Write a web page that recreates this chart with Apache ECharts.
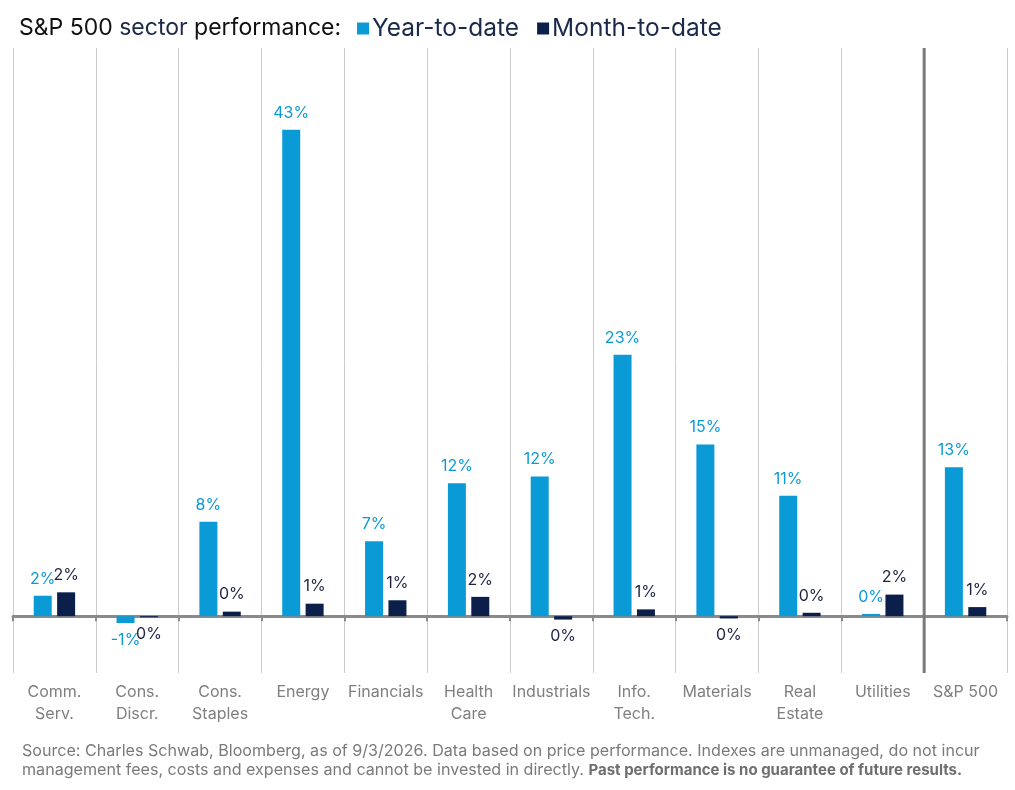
<!DOCTYPE html>
<html>
<head>
<meta charset="utf-8">
<title>S&amp;P 500 sector performance</title>
<script src="https://cdn.jsdelivr.net/npm/echarts@6/dist/echarts.min.js"></script>
<style>
  html, body { margin: 0; padding: 0; background: #fff; }
  #main { width: 1015px; height: 790px; }
</style>
</head>
<body>
<div id="main"></div>
<script>
// chart data
var sectors = ['Comm.\nServ.', 'Cons.\nDiscr.', 'Cons.\nStaples', 'Energy', 'Financials', 'Health\nCare',
  'Industrials', 'Info.\nTech.', 'Materials', 'Real\nEstate', 'Utilities', 'S&P 500'];
var ytd = [1.8, -0.6, 8.3, 42.8, 6.6, 11.7, 12.3, 23.0, 15.1, 10.6, 0.2, 13.1];
var mtd = [2.1, -0.1, 0.4, 1.1, 1.4, 1.7, -0.3, 0.6, -0.2, 0.3, 1.9, 0.8];
var seriesNames = ['Year-to-date', 'Month-to-date'];
var yMin = -5, yMax = 50;

var FONT = 'Inter';
var BLUE = '#0a9bd6';
var NAVY = '#0c1f4a';

var chart = echarts.init(document.getElementById('main'));

// labels above positive bars, below negative ones
function toItems(arr) {
  return arr.map(function (v) {
    return { value: v, label: { position: v < 0 ? 'bottom' : 'top' } };
  });
}

function pct(p) {
  return Math.round(p.value) + '%';
}

var option = {
  animation: false,
  textStyle: { fontFamily: FONT },
  title: [{
    left: 14,
    top: 12,
    text: '{a|S&P 500 }{b|sector}{a| performance:}',
    textStyle: {
      rich: {
        a: { fontFamily: FONT, fontSize: 23, fontWeight: 'normal', color: '#111' },
        b: { fontFamily: FONT, fontSize: 23, fontWeight: 'normal', color: '#1b2a4a' }
      }
    }
  }, {
    left: 17,
    top: 737,
    text: '{n|Source: Charles Schwab, Bloomberg, as of 9/3/2026. Data based on price performance. Indexes are unmanaged, do not incur}\n' +
      '{n|management fees, costs and expenses and cannot be invested in directly. }{b|Past performance is no guarantee of future results.}',
    textStyle: {
      lineHeight: 19,
      rich: {
        n: { fontFamily: FONT, fontSize: 16.1, fontWeight: 'normal', color: '#7a7a7a', lineHeight: 19 },
        b: { fontFamily: FONT, fontSize: 15, fontWeight: 'bold', color: '#6e6e6e', lineHeight: 19 }
      }
    }
  }],
  legend: {
    left: 352,
    top: 11,
    padding: [5, 5, 5, 5],
    itemWidth: 12,
    itemHeight: 12,
    itemGap: 18,
    icon: 'rect',
    textStyle: { fontFamily: FONT, fontSize: 24.5, color: '#1b2a4a', padding: [0, 0, 0, -2] },
    data: seriesNames
  },
  grid: { left: 13, right: 8, top: 48, bottom: 117 },
  xAxis: {
    type: 'category',
    data: sectors,
    axisLine: { onZero: true, lineStyle: { color: '#8a8a8a', width: 3 } },
    axisTick: { show: true, length: 5, lineStyle: { color: '#8a8a8a', width: 2 } },
    splitLine: { show: true, interval: 0, lineStyle: { color: '#cccccc', width: 1 } },
    axisLabel: {
      interval: 0,
      margin: 8,
      fontFamily: FONT,
      fontSize: 16,
      lineHeight: 22,
      color: '#7f7f7f'
    }
  },
  yAxis: {
    type: 'value',
    min: yMin,
    max: yMax,
    show: false,
    splitLine: { show: false }
  },
  series: [{
    name: seriesNames[0],
    type: 'bar',
    barWidth: 18,
    barGap: '30%',
    itemStyle: { color: BLUE },
    label: { show: true, formatter: pct, fontFamily: FONT, fontSize: 16, color: BLUE, distance: 9 },
    data: toItems(ytd)
  }, {
    name: seriesNames[1],
    type: 'bar',
    barWidth: 18,
    itemStyle: { color: NAVY },
    label: { show: true, formatter: pct, fontFamily: FONT, fontSize: 16, color: '#1c2340', distance: 9 },
    data: toItems(mtd)
  }]
};

chart.setOption(option);

// thick separator before the S&P 500 column, placed from the axis scale
var xa = chart.convertToPixel({ xAxisIndex: 0 }, sectors.length - 2);
var xb = chart.convertToPixel({ xAxisIndex: 0 }, sectors.length - 1);
var yTop = chart.convertToPixel({ yAxisIndex: 0 }, yMax);
var yBot = chart.convertToPixel({ yAxisIndex: 0 }, yMin);
chart.setOption({
  graphic: [{
    type: 'line',
    z: 100,
    shape: { x1: (xa + xb) / 2, y1: yTop, x2: (xa + xb) / 2, y2: yBot },
    style: { stroke: '#7a7a7a', lineWidth: 3 }
  }]
});
</script>
</body>
</html>
